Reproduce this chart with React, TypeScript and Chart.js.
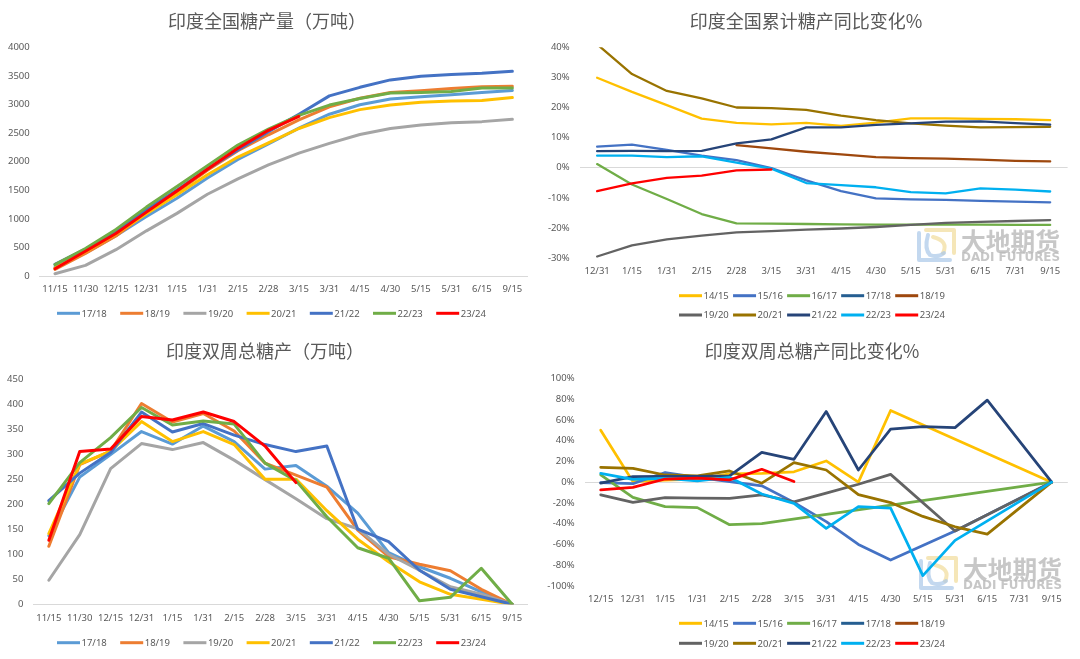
import React, { useEffect, useRef } from 'react';
import { Chart, registerables } from 'chart.js';
Chart.register(...registerables);

// ---------- categories ----------
const catsProd = ['11/15', '11/30', '12/15', '12/31', '1/15', '1/31', '2/15', '2/28', '3/15', '3/31', '4/15', '4/30', '5/15', '5/31', '6/15', '9/15'];
const catsCumYoY = ['12/31', '1/15', '1/31', '2/15', '2/28', '3/15', '3/31', '4/15', '4/30', '5/15', '5/31', '6/15', '7/31', '9/15'];
const catsBiYoY = ['12/15', '12/31', '1/15', '1/31', '2/15', '2/28', '3/15', '3/31', '4/15', '4/30', '5/15', '5/31', '6/15', '7/31', '9/15'];

// ---------- seasons / colours ----------
const seasonsA = ['17/18', '18/19', '19/20', '20/21', '21/22', '22/23', '23/24'];
const colorsA = ['#5B9BD5', '#ED7D31', '#A5A5A5', '#FFC000', '#4472C4', '#70AD47', '#FF0000'];
const seasonsB = ['14/15', '15/16', '16/17', '17/18', '18/19', '19/20', '20/21', '21/22', '22/23', '23/24'];
const colorsB = ['#FFC000', '#4472C4', '#70AD47', '#255E91', '#9E480E', '#636363', '#997300', '#264478', '#00B0F0', '#FF0000'];

// ---------- 印度全国糖产量（万吨） cumulative ----------
const cum1718 = [150, 405, 705, 1040, 1360, 1715, 2040, 2310, 2585, 2830, 2995, 3095, 3135, 3170, 3210, 3245];
const cum1819 = [115, 395, 700, 1100, 1465, 1850, 2190, 2470, 2730, 2960, 3110, 3210, 3240, 3280, 3310, 3320];
const cum1920 = [40, 185, 460, 790, 1095, 1430, 1700, 1945, 2150, 2320, 2475, 2580, 2640, 2680, 2700, 2740];
const cum2021 = [140, 425, 735, 1090, 1420, 1770, 2080, 2330, 2580, 2770, 2910, 2990, 3040, 3060, 3070, 3120];
const cum2122 = [205, 470, 775, 1160, 1505, 1870, 2205, 2525, 2830, 3150, 3300, 3430, 3495, 3525, 3545, 3580];
const cum2223 = [200, 480, 815, 1205, 1565, 1930, 2290, 2570, 2810, 2990, 3105, 3200, 3210, 3225, 3290, 3290];
const cum2324 = [128, 432, 742, 1117, 1485, 1868, 2233, 2548, 2790];

// ---------- 印度双周总糖产（万吨） biweekly ----------
const bi1718 = [137, 254, 299, 345, 320, 356, 325, 270, 277, 236, 182, 103, 75, 52, 25, 0];
const bi1819 = [116, 279, 306, 401, 364, 381, 346, 282, 258, 234, 148, 95, 80, 67, 30, 0];
const bi1920 = [48, 139, 271, 321, 309, 323, 288, 249, 211, 171, 151, 100, 68, 35, 20, 0];
const bi2021 = [141, 280, 306, 365, 325, 345, 319, 250, 250, 187, 130, 85, 45, 20, 10, 0];
const bi2122 = [207, 262, 303, 384, 344, 361, 338, 319, 305, 316, 150, 125, 68, 30, 15, 0];
const bi2223 = [201, 283, 333, 393, 358, 366, 360, 282, 247, 175, 113, 92, 7, 14, 72, 0];
const bi2324 = [128, 305, 310, 375, 368, 384, 365, 316, 243];

// ---------- 印度全国累计糖产同比变化% ----------
const cy1415 = [29.9, 25.2, 20.8, 16.3, 14.9, 14.4, 14.9, 13.9, 15.0, 16.4, 16.4, 16.2, 16.1, 15.8];
const cy1516 = [7.0, 7.7, 5.9, 4.0, 2.5, -0.1, -4.2, -7.8, -10.2, -10.5, -10.7, -11.0, -11.3, -11.5];
const cy1617 = [1.2, -5.6, -10.4, -15.4, -18.5, -18.6, -18.7, -18.8, -18.9, -18.9, -18.9, -18.9, -19.0, -19.0];
const cy1718: (number | null)[] = [null, null, null, null, null, null, null, null, null, null, null, null, null, null];
const cy1819 = [null, null, null, null, 7.5, 6.4, 5.3, 4.4, 3.5, 3.2, 3.0, 2.7, 2.3, 2.1];
const cy1920 = [-29.5, -25.8, -23.8, -22.6, -21.5, -21.1, -20.6, -20.2, -19.7, -19.0, -18.3, -18.0, -17.7, -17.4];
const cy2021 = [41, 31.1, 25.5, 23.0, 20.0, 19.8, 19.2, 17.3, 15.8, 14.7, 14.0, 13.4, 13.5, 13.6];
const cy2122 = [5.5, 5.6, 5.5, 5.6, 8.1, 9.4, 13.4, 13.4, 14.2, 14.7, 15.3, 15.4, 14.8, 14.3];
const cy2223 = [4.0, 4.0, 3.5, 3.8, 1.7, -0.3, -5.1, -5.8, -6.5, -8.1, -8.5, -6.9, -7.3, -7.9];
const cy2324 = [-7.8, -5.2, -3.4, -2.6, -0.9, -0.6];

// ---------- 印度双周总糖产同比变化% ----------
const by1415 = [50, 0.5, 2, 3, 8, 8.5, 10, 20.4, 0, 69, null, null, null, null, 0];
const by1516 = [-0.5, -1.5, 9.3, 4.5, 0.5, -3.5, -19.5, -38, -60, -75, null, -47, null, null, 0];
const by1617 = [7, -14.7, -23.5, -24.5, -41, -40, null, null, null, null, null, null, null, null, 0];
const by1718: (number | null)[] = [null, null, null, null, null, null, null, null, null, null, null, null, null, null, null];
const by1819: (number | null)[] = [null, null, null, null, null, null, null, null, null, null, null, null, null, null, null];
const by1920 = [-12.3, -19.5, -14.8, -15.5, -15.7, -12.3, -19, -10.5, -2, 7.5, null, -47, null, null, 0];
const by2021 = [14.3, 13.3, 6.9, 6, 10.8, -1, 18.8, 11.7, -12, -19.7, -33, -43, -50, null, 0];
const by2122 = [-1, 5.3, 5.5, 5.5, 6, 28.7, 22, 68, 11.7, 51, 53.5, 52.5, 79, null, 0];
const by2223 = [8.5, 2.7, 3.7, 1.2, 4.7, -11.4, -20.4, -44.5, -23.6, -25, -90, -56, null, null, 0];
const by2324 = [-7.5, -5, 3, 3.8, 2.2, 12.4, 0.6];

const NUM = '"Noto Sans", "Liberation Sans", sans-serif';
const CJK = '"Noto Sans CJK SC", "Noto Sans", sans-serif';
const TXT = '#595959';

type Cfg = {
  title: string;
  titleX: number;
  titleY: number;
  labels: string[];
  names: string[];
  colors: string[];
  data: (number | null)[][];
  lw: number;
  left: number;
  top: number;
  padR: number;
  padB: number;
  min: number;
  max: number;
  step: number;
  pct: boolean;
  zeroLine: boolean;
  legendRows: number[][];
  legendX: number;
  legendStep: number;
  legendY: number[];
  watermark?: { x: number; y: number };
};

function drawWatermark(ctx: CanvasRenderingContext2D, x: number, y: number) {
  ctx.save();
  ctx.lineJoin = 'round';
  ctx.lineCap = 'round';
  // logo: yellow top/right, blue left/bottom with inner curve
  ctx.lineWidth = 4;
  ctx.strokeStyle = 'rgba(242, 222, 160, 0.75)';
  ctx.beginPath();
  ctx.moveTo(x + 10, y + 3);
  ctx.lineTo(x + 38, y + 3);
  ctx.lineTo(x + 38, y + 26);
  ctx.stroke();
  ctx.beginPath();
  ctx.moveTo(x + 17, y + 10);
  ctx.quadraticCurveTo(x + 33, y + 14, x + 27, y + 26);
  ctx.stroke();
  ctx.strokeStyle = 'rgba(170, 200, 232, 0.7)';
  ctx.beginPath();
  ctx.moveTo(x + 3, y + 6);
  ctx.lineTo(x + 3, y + 33);
  ctx.lineTo(x + 34, y + 33);
  ctx.stroke();
  ctx.beginPath();
  ctx.moveTo(x + 12, y + 8);
  ctx.quadraticCurveTo(x + 8, y + 22, x + 14, y + 28);
  ctx.quadraticCurveTo(x + 22, y + 31, x + 28, y + 26);
  ctx.stroke();
  // text
  ctx.fillStyle = 'rgba(185, 185, 185, 0.8)';
  ctx.textAlign = 'left';
  ctx.textBaseline = 'middle';
  ctx.font = `bold 25px ${CJK}`;
  ctx.fillText('大地期货', x + 45, y + 14, 99);
  ctx.font = `bold 12px "DejaVu Sans", sans-serif`;
  ctx.fillText('DADI FUTURES', x + 45, y + 31, 99);
  ctx.restore();
}

function makeDecor(cfg: Cfg) {
  return {
    id: 'decor',
    beforeDatasetsDraw(chart: any) {
      if (cfg.watermark) drawWatermark(chart.ctx, cfg.watermark.x, cfg.watermark.y);
    },
    afterDraw(chart: any) {
      const ctx: CanvasRenderingContext2D = chart.ctx;
      ctx.save();
      ctx.fillStyle = TXT;
      ctx.textAlign = 'center';
      ctx.textBaseline = 'middle';
      ctx.font = `18px ${CJK}`;
      ctx.fillText(cfg.title, cfg.titleX, cfg.titleY);
      ctx.font = `9.5px ${NUM}`;
      ctx.textAlign = 'left';
      cfg.legendRows.forEach((row, r) => {
        let x = cfg.legendX;
        const y = cfg.legendY[r];
        row.forEach((i) => {
          const ds = chart.data.datasets[i];
          ctx.strokeStyle = ds.borderColor;
          ctx.lineWidth = 3;
          ctx.lineCap = 'butt';
          ctx.beginPath();
          ctx.moveTo(x, y);
          ctx.lineTo(x + 23, y);
          ctx.stroke();
          ctx.fillStyle = TXT;
          ctx.fillText(ds.label, x + 24.5, y + 0.5);
          x += cfg.legendStep;
        });
      });
      ctx.restore();
    },
  };
}

function makeChart(canvas: HTMLCanvasElement, cfg: Cfg) {
  const n = cfg.names.length;
  return new Chart(canvas, {
    type: 'line',
    data: {
      labels: cfg.labels,
      datasets: cfg.names.map((name, i) => ({
        label: name,
        data: cfg.data[i],
        borderColor: cfg.colors[i],
        backgroundColor: cfg.colors[i],
        borderWidth: cfg.lw,
        pointRadius: 0,
        pointHoverRadius: 0,
        tension: 0,
        fill: false,
        spanGaps: true,
        borderJoinStyle: 'round',
        borderCapStyle: 'round',
        order: n - i,
      })),
    },
    options: {
      responsive: false,
      animation: false,
      events: [],
      layout: { padding: { left: 0, right: cfg.padR, top: cfg.top, bottom: cfg.padB } },
      plugins: {
        legend: { display: false },
        title: { display: false },
        tooltip: { enabled: false },
      },
      scales: {
        x: {
          offset: true,
          grid: { display: false, drawTicks: false, tickLength: 0 },
          border: { display: !cfg.zeroLine, color: '#D9D9D9', width: 1 },
          ticks: {
            color: TXT,
            font: { family: NUM, size: 9.5 },
            padding: 8,
            maxRotation: 0,
            minRotation: 0,
            autoSkip: false,
          },
          afterFit: (s: any) => {
            s.height = 20;
          },
        },
        y: {
          min: cfg.min,
          max: cfg.max,
          grid: {
            display: cfg.zeroLine,
            drawTicks: false,
            tickLength: 0,
            lineWidth: 1,
            color: (c: any) => (c.tick && c.tick.value === 0 ? '#D9D9D9' : 'rgba(0,0,0,0)'),
          },
          border: { display: false },
          ticks: {
            stepSize: cfg.step,
            color: TXT,
            font: { family: NUM, size: 9.5 },
            padding: 10,
            callback: (v: any) => (cfg.pct ? `${v}%` : `${v}`),
          },
          afterFit: (s: any) => {
            s.width = cfg.left;
          },
        },
      },
    } as any,
    plugins: [makeDecor(cfg)],
  });
}

const cfgTL: Cfg = {
  title: '印度全国糖产量（万吨）',
  titleX: 267,
  titleY: 21.5,
  labels: catsProd,
  names: seasonsA,
  colors: colorsA,
  data: [cum1718, cum1819, cum1920, cum2021, cum2122, cum2223, cum2324],
  lw: 3,
  left: 39.7,
  top: 47.3,
  padR: 12.4,
  padB: 34,
  min: 0,
  max: 4000,
  step: 500,
  pct: false,
  zeroLine: false,
  legendRows: [[0, 1, 2, 3, 4, 5, 6]],
  legendX: 57,
  legendStep: 63.2,
  legendY: [313.3],
};

const cfgTR: Cfg = {
  title: '印度全国累计糖产同比变化%',
  titleX: 266,
  titleY: 21.5,
  labels: catsCumYoY,
  names: seasonsB,
  colors: colorsB,
  data: [cy1415, cy1516, cy1617, cy1718, cy1819, cy1920, cy2021, cy2122, cy2223, cy2324],
  lw: 2.3,
  left: 39.7,
  top: 47.3,
  padR: 12.4,
  padB: 52,
  min: -30,
  max: 40,
  step: 10,
  pct: true,
  zeroLine: true,
  legendRows: [
    [0, 1, 2, 3, 4],
    [5, 6, 7, 8, 9],
  ],
  legendX: 139,
  legendStep: 54.05,
  legendY: [295.7, 315],
  watermark: { x: 376, y: 227 },
};

const cfgBL: Cfg = {
  title: '印度双周总糖产（万吨）',
  titleX: 265,
  titleY: 21.5,
  labels: catsProd,
  names: seasonsA,
  colors: colorsA,
  data: [bi1718, bi1819, bi1920, bi2021, bi2122, bi2223, bi2324],
  lw: 3,
  left: 33.4,
  top: 49,
  padR: 12.4,
  padB: 34.7,
  min: 0,
  max: 450,
  step: 50,
  pct: false,
  zeroLine: false,
  legendRows: [[0, 1, 2, 3, 4, 5, 6]],
  legendX: 57,
  legendStep: 63.2,
  legendY: [312.7],
};

const cfgBR: Cfg = {
  title: '印度双周总糖产同比变化%',
  titleX: 272,
  titleY: 21.5,
  labels: catsBiYoY,
  names: seasonsB,
  colors: colorsB,
  data: [by1415, by1516, by1617, by1718, by1819, by1920, by2021, by2122, by2223, by2324],
  lw: 2.75,
  left: 44.6,
  top: 48.3,
  padR: 12.2,
  padB: 53,
  min: -100,
  max: 100,
  step: 20,
  pct: true,
  zeroLine: true,
  legendRows: [
    [0, 1, 2, 3, 4],
    [5, 6, 7, 8, 9],
  ],
  legendX: 139,
  legendStep: 54.05,
  legendY: [293.3, 313.3],
  watermark: { x: 378, y: 225 },
};

export default function App() {
  const r1 = useRef<HTMLCanvasElement>(null);
  const r2 = useRef<HTMLCanvasElement>(null);
  const r3 = useRef<HTMLCanvasElement>(null);
  const r4 = useRef<HTMLCanvasElement>(null);

  useEffect(() => {
    const charts = [
      makeChart(r1.current!, cfgTL),
      makeChart(r2.current!, cfgTR),
      makeChart(r3.current!, cfgBL),
      makeChart(r4.current!, cfgBR),
    ];
    return () => charts.forEach((c) => c.destroy());
  }, []);

  const cs = (left: number, top: number): React.CSSProperties => ({ position: 'absolute', left, top, display: 'block' });

  return (
    <div style={{ position: 'absolute', left: 0, top: 0, width: 1080, height: 659, background: '#ffffff', overflow: 'hidden' }}>
      <canvas ref={r1} width={540} height={330} style={cs(0, 0)} />
      <canvas ref={r2} width={540} height={330} style={cs(540, 0)} />
      <canvas ref={r3} width={540} height={329} style={cs(0, 330)} />
      <canvas ref={r4} width={540} height={329} style={cs(540, 330)} />
    </div>
  );
}
